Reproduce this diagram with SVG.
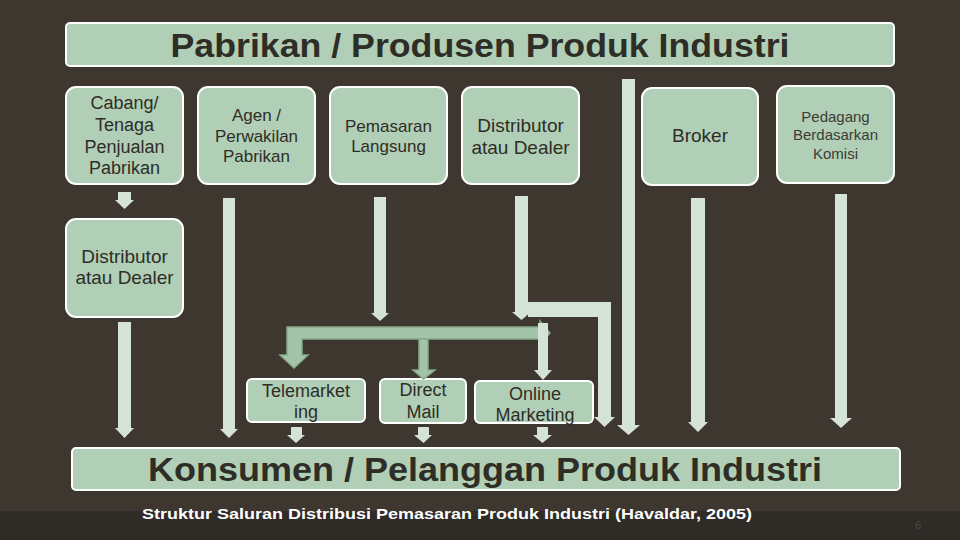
<svg xmlns="http://www.w3.org/2000/svg" width="960" height="540" viewBox="0 0 960 540">
<defs>
<style>
.box{fill:#b1cfb6;stroke:#ffffff;stroke-width:2}
.t{font-family:"Liberation Sans",Arial,sans-serif;fill:#2e2d26;text-anchor:middle}
.pale{fill:#d4e2d7}
.grn{fill:#a4c4a9;stroke:#86a88b;stroke-width:1.5}
</style>
</defs>
<rect x="0" y="0" width="960" height="540" fill="#3e372f"/>
<rect x="0" y="511" width="960" height="29" fill="#2f2b26"/>

<g id="producer">
<rect class="box" x="66" y="23" width="828" height="43" rx="4"/>
<text class="t" x="480" y="57" font-size="33" font-weight="bold" textLength="619" lengthAdjust="spacingAndGlyphs">Pabrikan / Produsen Produk Industri</text>
</g>

<g id="cabang">
<rect class="box" x="66" y="87" width="117" height="97" rx="10"/>
<text class="t" font-size="18"><tspan x="124.5" y="109">Cabang/</tspan><tspan x="124.5" y="131">Tenaga</tspan><tspan x="124.5" y="153">Penjualan</tspan><tspan x="124.5" y="174">Pabrikan</tspan></text>
</g>
<g id="agen">
<rect class="box" x="198" y="87" width="117" height="97" rx="10"/>
<text class="t" font-size="17"><tspan x="256.5" y="121">Agen /</tspan><tspan x="256.5" y="142">Perwakilan</tspan><tspan x="256.5" y="162">Pabrikan</tspan></text>
</g>
<g id="pemasaran">
<rect class="box" x="330" y="87" width="117" height="97" rx="10"/>
<text class="t" font-size="17"><tspan x="388.5" y="132">Pemasaran</tspan><tspan x="388.5" y="152">Langsung</tspan></text>
</g>
<g id="distributor1">
<rect class="box" x="462" y="87" width="117" height="97" rx="10"/>
<text class="t" font-size="19"><tspan x="520.5" y="132">Distributor</tspan><tspan x="520.5" y="154">atau Dealer</tspan></text>
</g>
<g id="broker">
<rect class="box" x="642" y="88" width="116" height="97" rx="10"/>
<text class="t" x="700" y="142" font-size="19">Broker</text>
</g>
<g id="pedagang">
<rect class="box" x="777" y="86" width="117" height="97" rx="10"/>
<text class="t" font-size="15" style="fill:#3b3b35"><tspan x="835.5" y="122">Pedagang</tspan><tspan x="835.5" y="140">Berdasarkan</tspan><tspan x="835.5" y="159">Komisi</tspan></text>
</g>
<g id="distributor2">
<rect class="box" x="66" y="219" width="117" height="98" rx="10"/>
<text class="t" font-size="19"><tspan x="124.5" y="263">Distributor</tspan><tspan x="124.5" y="284">atau Dealer</tspan></text>
</g>
<g id="telemarketing">
<rect class="box" x="247" y="379" width="118" height="43" rx="5"/>
<text class="t" font-size="18"><tspan x="306" y="397">Telemarket</tspan><tspan x="306" y="418">ing</tspan></text>
</g>
<g id="directmail">
<rect class="box" x="380" y="379" width="86" height="44" rx="5"/>
<text class="t" font-size="18"><tspan x="423" y="396">Direct</tspan><tspan x="423" y="418">Mail</tspan></text>
</g>
<g id="online">
<rect class="box" x="475" y="381" width="118" height="42" rx="5"/>
<text class="t" font-size="18"><tspan x="535" y="400">Online</tspan><tspan x="535" y="421">Marketing</tspan></text>
</g>
<g id="konsumen">
<rect class="box" x="72" y="448" width="828" height="42" rx="4"/>
<text class="t" x="485" y="481" font-size="34" font-weight="bold" textLength="674" lengthAdjust="spacingAndGlyphs">Konsumen / Pelanggan Produk Industri</text>
</g>

<g id="connectors">
<polygon class="pale" points="118,192 131,192 131,200 134,200 124.5,209 115,200 118,200"/>
<polygon class="pale" points="118,322 131,322 131,428 134,428 124.5,438 115,428 118,428"/>
<polygon class="pale" points="223,198 235,198 235,429 238,429 229,438 220,429 223,429"/>
<polygon class="pale" points="374,197 386,197 386,313 389,313 380,321 371,313 374,313"/>
<path class="pale" d="M515,196 L528,196 L528,302 L611,302 L611,417 L615,417 L604.5,427 L594,417 L598,417 L598,317 L528,317 L528,312 L531,312 L521.5,320 L512,312 L515,312 Z"/>
<polygon class="pale" points="622,79 635,79 635,425 640,425 628.5,435 617,425 622,425"/>
<polygon class="pale" points="691,198 705,198 705,422 708,422 698,432 688,422 691,422"/>
<polygon class="pale" points="835,194 847,194 847,418 852,418 841,428 830,418 835,418"/>
<path class="grn" d="M540,327 L540,321 L550,333 L540,345 L540,339 L302,339 L302,355 L308,355 L294,368 L280,355 L287,355 L287,327 Z"/>
<polygon class="grn" points="419,339 428,339 428,370 435,370 423.5,379 413,370 419,370"/>
<polygon class="pale" points="538,323 548,323 548,370 552,370 543,380 534,370 538,370"/>
<polygon class="pale" points="291,427 302,427 302,435 305,435 296,443 287,435 291,435"/>
<polygon class="pale" points="418,427 429,427 429,435 432,435 423.5,443 414,435 418,435"/>
<polygon class="pale" points="537,427 548,427 548,435 552,435 542.5,443 533,435 537,435"/>
</g>

<text x="447" y="519" font-family="'Liberation Sans',Arial,sans-serif" font-size="15" font-weight="bold" fill="#ffffff" text-anchor="middle" textLength="610" lengthAdjust="spacingAndGlyphs">Struktur Saluran Distribusi Pemasaran Produk Industri (Havaldar, 2005)</text>
<text x="918" y="529" font-family="'Liberation Sans',Arial,sans-serif" font-size="11" fill="#4d473f" text-anchor="middle">6</text>
</svg>
